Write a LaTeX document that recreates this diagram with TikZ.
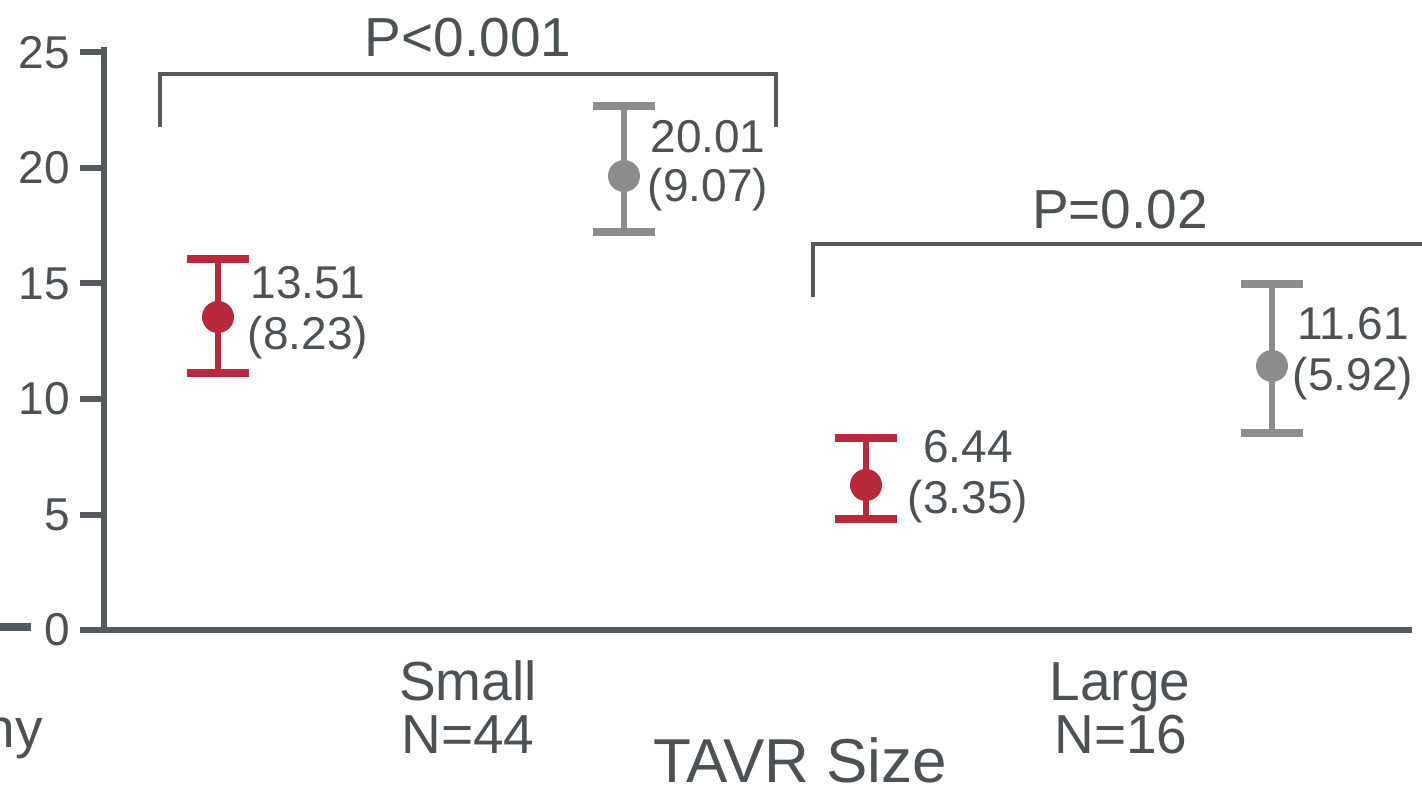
\documentclass[tikz,border=0pt]{standalone}
\usepackage{fontspec}
\setmainfont{Liberation Sans}
\definecolor{axisgray}{HTML}{53595C}
\definecolor{txtgray}{HTML}{4B5154}
\definecolor{ebred}{HTML}{B8293B}
\definecolor{ebgray}{HTML}{8B8D8D}
\begin{document}
\begin{tikzpicture}[x=1pt,y=-1pt,
  axisline/.style={draw=axisgray,line width=6pt,line join=miter},
  bracketline/.style={draw=axisgray,line width=4.5pt,line join=miter},
  ticklabel/.style={font=\fontsize{46}{50}\selectfont,text=txtgray,inner sep=0pt,anchor=east},
  vallabel/.style={font=\fontsize{46}{50}\selectfont,text=txtgray,inner sep=0pt,anchor=base},
  catlabel/.style={font=\fontsize{55}{60}\selectfont,text=txtgray,inner sep=0pt,anchor=base},
  dot/.style={circle,inner sep=0pt,minimum size=32pt}]
\useasboundingbox (0,0) rectangle (1422,786);
\clip (0,0) rectangle (1422,786);

% fragment of neighbouring panel
\coordinate (fragA) at (0,627);
\coordinate (fragB) at (31,627);
\draw[draw=axisgray,line width=8pt] (fragA) -- (fragB);
\node[catlabel,anchor=base east] (frag) at (43,747) {ny};

% axes
\coordinate (ytop) at (104,47);
\coordinate (origin) at (104,630);
\coordinate (xstart) at (80,630);
\coordinate (xend) at (1412,630);
\draw[axisline] (ytop) -- (origin);
\draw[axisline] (xstart) -- (xend);
\foreach \v in {5,10,15,20,25}{
  \coordinate (tick\v) at (104,630-23.1*\v);
  \draw[axisline] ([xshift=-24pt]tick\v) -- (tick\v);
}
\foreach \v in {0,5,10,15,20,25}{
  \node[ticklabel] (tl\v) at (70,630-23.1*\v) {\v};
}

% brackets
\coordinate (b1l) at (160,127);
\coordinate (b1tl) at (160,74);
\coordinate (b1tr) at (776,74);
\coordinate (b1r) at (776,127);
\draw[bracketline] (b1l) -- (b1tl) -- (b1tr) -- (b1r);
\node[catlabel] (p1) at (468,57) {P<0.001};
\coordinate (b2l) at (813,297);
\coordinate (b2tl) at (813,244);
\coordinate (b2tr) at (1440,244);
\draw[bracketline] (b2l) -- (b2tl) -- (b2tr);
\node[catlabel] (p2) at (1120,229) {P=0.02};

% error bars
\foreach \n/\x/\m/\t/\b/\c in {rs/218/317/259/373/ebred, gs/624/176/106/232/ebgray, rl/866/485/438/519/ebred, gl/1272/366/284/433/ebgray}{
  \coordinate (\n top) at (\x,\t);
  \coordinate (\n bot) at (\x,\b);
  \draw[draw=\c,line width=6pt] (\n top) -- (\n bot);
  \draw[draw=\c,line width=7.5pt] ([xshift=-31pt]\n top) -- ([xshift=31pt]\n top);
  \draw[draw=\c,line width=7.5pt] ([xshift=-31pt]\n bot) -- ([xshift=31pt]\n bot);
  \node[dot,fill=\c] (\n) at (\x,\m) {};
}

% value labels
\node[vallabel] (rsa) at (308,299) {13.51};
\node[vallabel] (rsb) at (308,350) {(8.23)};
\node[vallabel] (gsa) at (708,153) {20.01};
\node[vallabel] (gsb) at (708,202) {(9.07)};
\node[vallabel] (rla) at (968,462) {6.44};
\node[vallabel] (rlb) at (968,513) {(3.35)};
\node[vallabel] (gla) at (1353,340) {11.61};
\node[vallabel] (glb) at (1353,390) {(5.92)};

% category labels
\node[catlabel] (small) at (468,700) {Small};
\node[catlabel] (smalln) at (468,753) {N=44};
\node[catlabel] (large) at (1120,700) {Large};
\node[catlabel] (largen) at (1121,753) {N=16};
\node[catlabel,font=\fontsize{62}{66}\selectfont] (xtitle) at (800,782) {TAVR Size};
\end{tikzpicture}
\end{document}
